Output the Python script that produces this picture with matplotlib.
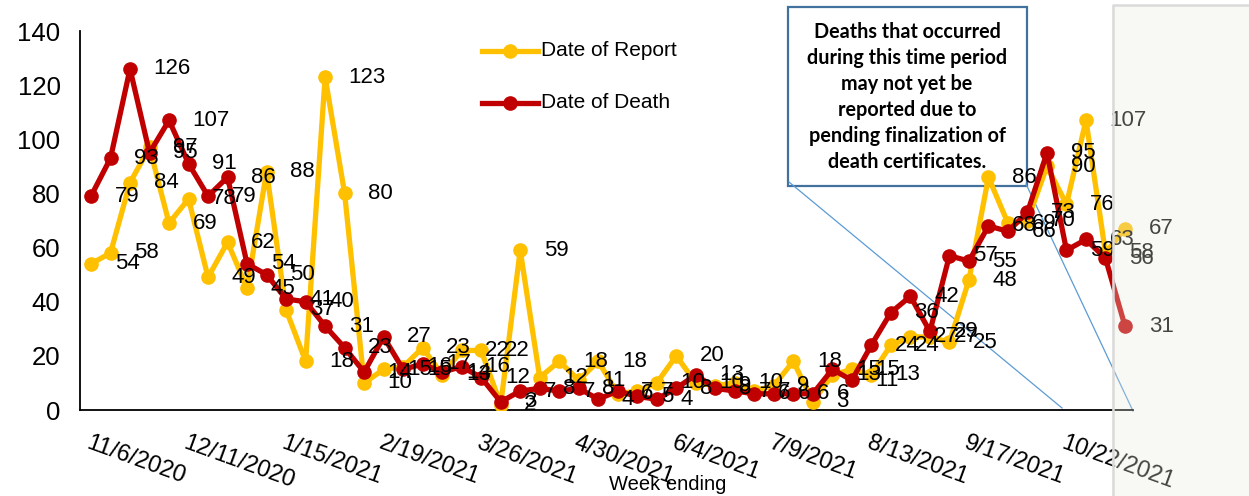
import matplotlib
matplotlib.use("Agg")
import matplotlib.pyplot as plt
from matplotlib.patches import Rectangle
from matplotlib.lines import Line2D
import pandas as pd

# weekly counts, week ending 11/6/2020 .. 11/12/2021
weeks = pd.date_range("2020-11-06", periods=54, freq="7D")
date_of_report = [54, 58, 84, 97, 69, 78, 49, 62, 45, 88,
                  37, 18, 123, 80, 10, 15, 16, 23, 13, 22,
                  22, 2, 59, 12, 18, 11, 18, 6, 7, 10,
                  20, 10, 9, 10, 7, 9, 18, 3, 13, 15,
                  13, 24, 27, 27, 25, 48, 86, 69, 70, 90,
                  76, 107, 58, 67]
date_of_death = [79, 93, 126, 95, 107, 91, 79, 86, 54, 50,
                 41, 40, 31, 23, 14, 27, 15, 17, 14, 16,
                 12, 3, 7, 8, 7, 8, 4, 7, 5, 4,
                 8, 13, 8, 7, 6, 6, 6, 6, 15, 11,
                 24, 36, 42, 29, 57, 55, 68, 66, 73, 95,
                 59, 63, 56, 31]
tick_every = 5
box_text = ("Deaths that occurred\nduring this time period\nmay not yet be\n"
            "reported due to\npending finalization of\ndeath certificates.")

YELLOW = "#FFC000"
RED = "#C00000"
W, H = 1249, 496

plt.rcParams['font.family'] = ['Liberation Sans', 'DejaVu Sans']

fig = plt.figure(figsize=(W / 100, H / 100), dpi=100)
ax = fig.add_axes([80 / W, (H - 410) / H, (1133 - 80) / W, (410 - 31) / H])

def fx(px):
    return px / W

def fy(py):
    return 1 - py / H

x = list(range(len(weeks)))
ax.plot(x, date_of_report, color=YELLOW, lw=3.8, marker='o', ms=9.5, zorder=3)
ax.plot(x, date_of_death, color=RED, lw=3.8, marker='o', ms=9.5, zorder=4)

for i, v in enumerate(date_of_report):
    ax.annotate(str(v), (i, v), xytext=(17, 0), textcoords='offset points',
                ha='left', va='center', fontsize=16, color='black', zorder=5)
for i, v in enumerate(date_of_death):
    ax.annotate(str(v), (i, v), xytext=(17, 0), textcoords='offset points',
                ha='left', va='center', fontsize=16, color='black', zorder=5)

ax.set_xlim(-0.564, 53.41)
ax.set_ylim(0, 140)
ax.set_yticks(range(0, 141, 20))
ax.tick_params(axis='y', length=0, pad=14, labelsize=18.5)
ticks = x[::tick_every]
ax.set_xticks(ticks)
ax.set_xticklabels([f"{d.month}/{d.day}/{d.year}" for d in weeks[::tick_every]],
                   rotation=-20, ha='left', va='top', rotation_mode='anchor',
                   fontsize=17)
ax.tick_params(axis='x', length=0, pad=16)
for s in ['top', 'right']:
    ax.spines[s].set_visible(False)
for s in ['left', 'bottom']:
    ax.spines[s].set_linewidth(1.3)
    ax.spines[s].set_color('black')

fig.text(fx(668), fy(485), "Week ending", ha='center', va='center', fontsize=14.5)

# legend drawn by hand
for py, col, lab in [(51, YELLOW, "Date of Report"), (103, RED, "Date of Death")]:
    fig.add_artist(Line2D([fx(482), fx(538)], [fy(py), fy(py)], color=col, lw=3.8,
                          transform=fig.transFigure))
    fig.add_artist(Line2D([fx(510)], [fy(py)], color=col, marker='o', ms=9.5,
                          transform=fig.transFigure))
    fig.text(fx(541), fy(py), lab, ha='left', va='center', fontsize=15)

# annotation box and callout lines
ax.add_patch(Rectangle((fx(788), fy(186)), fx(1027) - fx(788), fy(7) - fy(186),
                       transform=fig.transFigure, facecolor='white',
                       edgecolor='#41719C', lw=1.6, clip_on=False, zorder=1))
ax.text(fx(907), fy(97), box_text, transform=fig.transFigure, ha='center',
        va='center', fontsize=14.2, fontweight='bold', family=['Lato', 'DejaVu Sans'],
        linespacing=1.38, zorder=1.5)
ax.add_line(Line2D([fx(789), fx(1062)], [fy(182), fy(408)], color='#5B9BD5', lw=0.9,
                   transform=fig.transFigure, clip_on=False, zorder=2))
ax.add_line(Line2D([fx(1026), fx(1133)], [fy(184), fy(411)], color='#5B9BD5', lw=0.9,
                   transform=fig.transFigure, clip_on=False, zorder=2))

# pale panel over the right edge
fig.add_artist(Rectangle((fx(1112), 0), 1 - fx(1112), fy(5), transform=fig.transFigure,
                         facecolor='#e8e8dc', alpha=0.3, edgecolor='none', zorder=10))
fig.add_artist(Line2D([fx(1113), fx(1113), 1], [0, fy(5), fy(5)], color='#dadada', lw=1.8,
                      transform=fig.transFigure, zorder=11))

fig.savefig("out.png", dpi=100)
